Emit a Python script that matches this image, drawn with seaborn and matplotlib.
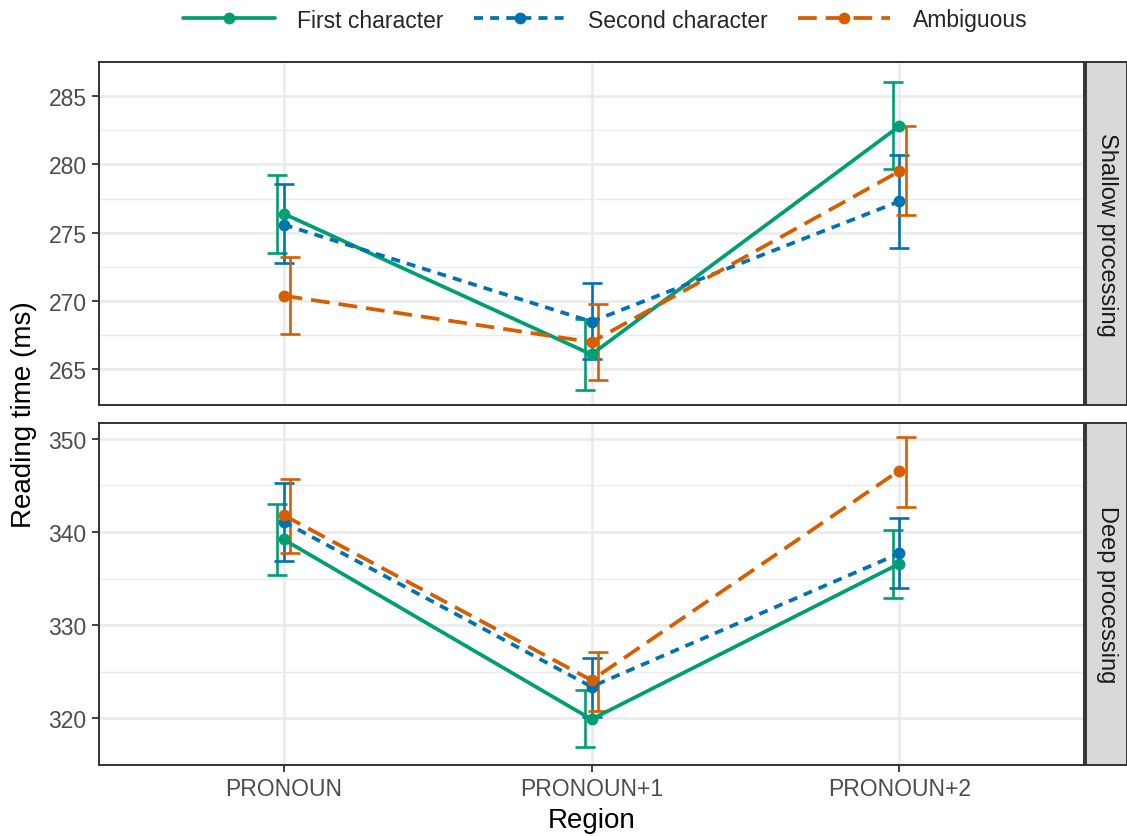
import numpy as np
import pandas as pd
import matplotlib
matplotlib.use("Agg")
import matplotlib.pyplot as plt
import seaborn as sns

#Chart values
regions = ["PRONOUN", "PRONOUN+1", "PRONOUN+2"]
conditions = ["First character", "Second character", "Ambiguous"]
panels = ["Shallow processing", "Deep processing"]

shallow_first = [276.4, 266.1, 282.8]
shallow_first_lo = [273.5, 263.5, 279.7]
shallow_first_hi = [279.2, 268.7, 286.0]
shallow_second = [275.6, 268.5, 277.3]
shallow_second_lo = [272.8, 265.8, 273.9]
shallow_second_hi = [278.6, 271.3, 280.7]
shallow_ambig = [270.4, 267.0, 279.5]
shallow_ambig_lo = [267.6, 264.2, 276.3]
shallow_ambig_hi = [273.2, 269.8, 282.8]

deep_first = [339.2, 319.9, 336.6]
deep_first_lo = [335.4, 316.9, 332.9]
deep_first_hi = [343.0, 323.0, 340.2]
deep_second = [341.1, 323.4, 337.7]
deep_second_lo = [336.9, 320.1, 334.0]
deep_second_hi = [345.3, 326.5, 341.5]
deep_ambig = [341.8, 324.1, 346.6]
deep_ambig_lo = [337.7, 320.8, 342.7]
deep_ambig_hi = [345.7, 327.1, 350.2]

#Build a long table
rows = []
series = {
    "Shallow processing": [(shallow_first, shallow_first_lo, shallow_first_hi),
                           (shallow_second, shallow_second_lo, shallow_second_hi),
                           (shallow_ambig, shallow_ambig_lo, shallow_ambig_hi)],
    "Deep processing": [(deep_first, deep_first_lo, deep_first_hi),
                        (deep_second, deep_second_lo, deep_second_hi),
                        (deep_ambig, deep_ambig_lo, deep_ambig_hi)],
}
for p in panels:
    for c, (m, lo, hi) in zip(conditions, series[p]):
        for i, r in enumerate(regions):
            rows.append({"panel": p, "condition": c, "region": r, "pos": i,
                         "rt": m[i], "lo": lo[i], "hi": hi[i]})
df = pd.DataFrame(rows)

#Style
sns.set_theme(style="white")
plt.rcParams['font.family'] = ['Liberation Sans', 'DejaVu Sans']

palette = {"First character": "#009E73", "Second character": "#0072B2", "Ambiguous": "#D55E00"}
dashes = {"First character": "", "Second character": (2.4, 1.9), "Ambiguous": (5, 2.4)}
dodge = {"First character": -0.021, "Second character": 0.0, "Ambiguous": 0.021}

fig = plt.figure(figsize=(11.27, 8.37), dpi=100)
W, H = 1127, 837
def px_axes(x0, y0, x1, y1):
    return fig.add_axes([x0 / W, 1 - y1 / H, (x1 - x0) / W, (y1 - y0) / H])

ax_top = px_axes(99, 63, 1084, 406)
ax_bot = px_axes(99, 424, 1084, 766)
strip_top = px_axes(1086, 63, 1127, 406)
strip_bot = px_axes(1086, 424, 1127, 766)

limits = {"Shallow processing": (262.4, 287.1), "Deep processing": (315.2, 351.7)}
major = {"Shallow processing": np.arange(265, 286, 5), "Deep processing": np.arange(320, 351, 10)}
minor = {"Shallow processing": np.arange(262.5, 287.6, 5), "Deep processing": np.arange(315, 351, 10)}

for ax, strip, p in [(ax_top, strip_top, panels[0]), (ax_bot, strip_bot, panels[1])]:
    sub = df[df["panel"] == p]
    #error bars, slightly dodged
    for c in conditions:
        s = sub[sub["condition"] == c]
        ax.errorbar(s["pos"] + dodge[c], s["rt"],
                    yerr=[s["rt"] - s["lo"], s["hi"] - s["rt"]],
                    fmt="none", ecolor=palette[c], elinewidth=1.9,
                    capsize=7.5, capthick=1.9, zorder=3)
    sns.lineplot(data=sub, x="pos", y="rt", hue="condition", style="condition",
                 hue_order=conditions, style_order=conditions,
                 palette=palette, dashes=dashes, markers={c: "o" for c in conditions},
                 markersize=8.5, markeredgewidth=0, linewidth=2.7,
                 ax=ax, legend=(p == panels[0]), zorder=4)
    ax.set_xlim(-0.6, 2.6)
    ax.set_ylim(*limits[p])
    ax.set_yticks(major[p])
    ax.set_yticks(minor[p], minor=True)
    ax.set_xticks(range(len(regions)))
    ax.grid(True, which="major", color="#EBEBEB", linewidth=1.9, zorder=0)
    ax.grid(True, which="minor", axis="y", color="#EBEBEB", linewidth=1.0, zorder=0)
    ax.set_axisbelow(True)
    for sp in ax.spines.values():
        sp.set_color("#333333")
        sp.set_linewidth(1.4)
    ax.tick_params(axis="both", which="major", length=5, width=1.3, color="#333333",
                   labelsize=16.5, labelcolor="#4D4D4D", left=True, bottom=True, pad=4)
    ax.tick_params(axis="both", which="minor", length=0)
    ax.set_ylabel("")
    ax.set_xlabel("")
    #strip on the right
    strip.set_facecolor("#D9D9D9")
    strip.set_xticks([])
    strip.set_yticks([])
    for sp in strip.spines.values():
        sp.set_color("#333333")
        sp.set_linewidth(1.4)
    strip.text(0.5, 0.5, p, rotation=-90, ha="center", va="center",
               fontsize=17, color="#1A1A1A", transform=strip.transAxes)

ax_top.set_xticklabels([])
ax_top.tick_params(axis="x", length=0)
ax_bot.set_xticklabels(regions)
ax_bot.set_xlabel("Region", fontsize=20, color="black", labelpad=5)
fig.text(24 / W, 1 - 415 / H, "Reading time (ms)", rotation=90, ha="center", va="center",
         fontsize=20, color="black")

handles, labels = ax_top.get_legend_handles_labels()
ax_top.get_legend().remove()
fig.legend(handles, labels, loc="center", bbox_to_anchor=(605 / W, 1 - 21 / H), ncol=3,
           frameon=False, fontsize=16.5, handlelength=4.0, columnspacing=1.3, handletextpad=1.0)

plt.savefig("out.png", dpi=100)
